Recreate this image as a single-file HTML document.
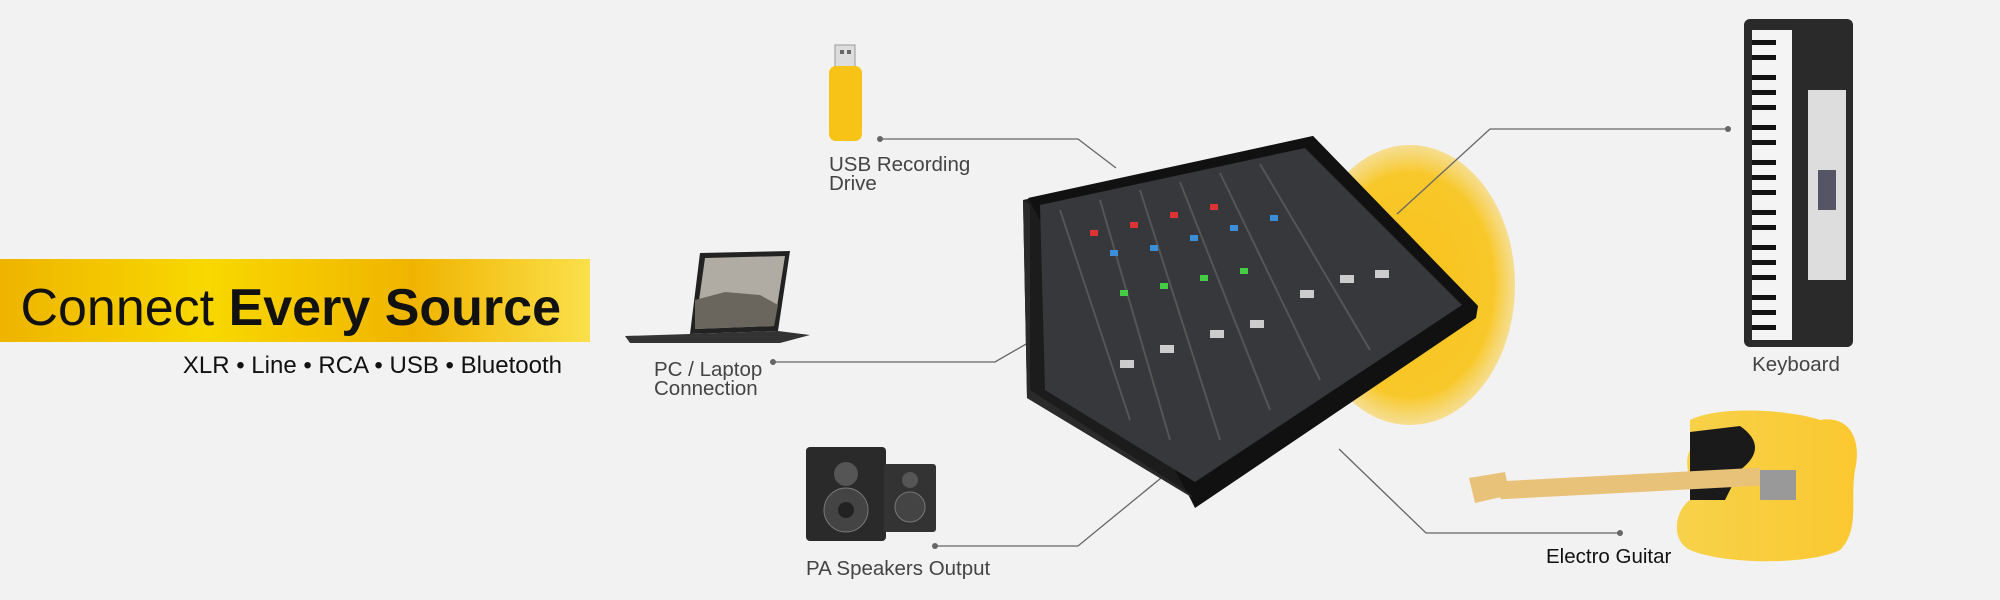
<!DOCTYPE html>
<html><head><meta charset="utf-8"><style>
html,body{margin:0;padding:0;background:#f2f2f2;}
body{width:2000px;height:600px;overflow:hidden;position:relative;font-family:"Liberation Sans",sans-serif;}
</style></head><body>
<svg width="2000" height="600" viewBox="0 0 2000 600" xmlns="http://www.w3.org/2000/svg" style="position:absolute;left:0;top:0">
<defs>
<linearGradient id="ban" x1="0" x2="1" y1="0" y2="0">
<stop offset="0" stop-color="#eeb400"/><stop offset="0.35" stop-color="#f8d800"/><stop offset="0.7" stop-color="#f0b400"/><stop offset="1" stop-color="#fbe04a"/>
</linearGradient>
<radialGradient id="blob" cx="0.5" cy="0.5" r="0.5">
<stop offset="0" stop-color="#f7c21a"/><stop offset="0.8" stop-color="#f8c82a"/><stop offset="1" stop-color="#f8d050" stop-opacity="0.6"/>
</radialGradient>
<linearGradient id="gt" x1="0" x2="1"><stop offset="0" stop-color="#f7d24a"/><stop offset="1" stop-color="#fbc830"/></linearGradient>
</defs>
<rect x="0" y="259" width="590" height="83" fill="url(#ban)"/>
<text x="561" y="325" text-anchor="end" font-size="52" fill="#111"><tspan>Connect </tspan><tspan font-weight="bold">Every Source</tspan></text>
<text x="562" y="373" text-anchor="end" font-size="24" fill="#111">XLR • Line • RCA • USB • Bluetooth</text>

<ellipse cx="1410" cy="285" rx="105" ry="140" fill="url(#blob)"/>

<g stroke="#666" stroke-width="1.3" fill="none">
<polyline points="880,139 1078,139 1116,168"/>
<polyline points="773,362 995,362 1052,329"/>
<polyline points="935,546 1078,546 1161,478"/>
<polyline points="1728,129 1490,129 1397,214"/>
<polyline points="1620,533 1426,533 1339,449"/>
</g>
<g fill="#666"><circle cx="880" cy="139" r="3"/><circle cx="773" cy="362" r="3"/><circle cx="935" cy="546" r="3"/><circle cx="1728" cy="129" r="3"/><circle cx="1620" cy="533" r="3"/></g>

<rect x="835" y="45" width="20" height="22" fill="#ddd" stroke="#999"/>
<rect x="840" y="50" width="4" height="4" fill="#666"/><rect x="847" y="50" width="4" height="4" fill="#666"/>
<rect x="829" y="66" width="33" height="75" rx="7" fill="#f6c316"/>

<polygon points="700,253 790,251 778,331 690,334" fill="#222"/>
<polygon points="705,258 785,256 774,326 695,329" fill="#b0aca4"/>
<polygon points="695,300 725,292 760,295 778,305 774,326 695,329" fill="#6a665e"/>
<polygon points="625,336 690,334 778,331 810,335 780,343 630,343" fill="#333"/>

<rect x="806" y="447" width="80" height="94" rx="4" fill="#2a2a2a"/>
<circle cx="846" cy="474" r="12" fill="#555"/><circle cx="846" cy="510" r="22" fill="#444" stroke="#777"/><circle cx="846" cy="510" r="8" fill="#222"/>
<rect x="884" y="464" width="52" height="68" rx="3" fill="#333"/>
<circle cx="910" cy="480" r="8" fill="#555"/><circle cx="910" cy="507" r="15" fill="#444" stroke="#777"/>

<polygon points="1023,200 1313,136 1478,306 1193,498 1027,398" fill="#1c1c1c"/>
<polygon points="1028,198 1313,136 1478,306 1476,318 1195,508 1190,498" fill="#111"/>
<polygon points="1023,200 1027,398 1193,498 1190,494 1030,390 1030,205" fill="#2a2a2a"/>
<polygon points="1040,205 1305,148 1462,305 1195,482 1045,390" fill="#36383c"/>
<g stroke="#555" stroke-width="2">
<line x1="1060" y1="210" x2="1130" y2="420"/><line x1="1100" y1="200" x2="1170" y2="440"/>
<line x1="1140" y1="190" x2="1220" y2="440"/><line x1="1180" y1="182" x2="1270" y2="410"/>
<line x1="1220" y1="173" x2="1320" y2="380"/><line x1="1260" y1="164" x2="1370" y2="350"/>
</g>
<g fill="#3a8fd8"><rect x="1110" y="250" width="8" height="6"/><rect x="1150" y="245" width="8" height="6"/><rect x="1190" y="235" width="8" height="6"/><rect x="1230" y="225" width="8" height="6"/><rect x="1270" y="215" width="8" height="6"/></g>
<g fill="#d33"><rect x="1090" y="230" width="8" height="6"/><rect x="1130" y="222" width="8" height="6"/><rect x="1170" y="212" width="8" height="6"/><rect x="1210" y="204" width="8" height="6"/></g>
<g fill="#4c4"><rect x="1120" y="290" width="8" height="6"/><rect x="1160" y="283" width="8" height="6"/><rect x="1200" y="275" width="8" height="6"/><rect x="1240" y="268" width="8" height="6"/></g>
<g fill="#ccc"><rect x="1120" y="360" width="14" height="8"/><rect x="1160" y="345" width="14" height="8"/><rect x="1210" y="330" width="14" height="8"/><rect x="1250" y="320" width="14" height="8"/><rect x="1300" y="290" width="14" height="8"/><rect x="1340" y="275" width="14" height="8"/><rect x="1375" y="270" width="14" height="8"/></g>

<rect x="1744" y="19" width="109" height="328" rx="6" fill="#2a2a2a"/>
<rect x="1752" y="30" width="40" height="310" fill="#f4f4f4"/>
<g fill="#111">
<rect x="1752" y="40" width="24" height="5"/><rect x="1752" y="55" width="24" height="5"/><rect x="1752" y="75" width="24" height="5"/><rect x="1752" y="90" width="24" height="5"/><rect x="1752" y="105" width="24" height="5"/><rect x="1752" y="125" width="24" height="5"/><rect x="1752" y="140" width="24" height="5"/><rect x="1752" y="160" width="24" height="5"/><rect x="1752" y="175" width="24" height="5"/><rect x="1752" y="190" width="24" height="5"/><rect x="1752" y="210" width="24" height="5"/><rect x="1752" y="225" width="24" height="5"/><rect x="1752" y="245" width="24" height="5"/><rect x="1752" y="260" width="24" height="5"/><rect x="1752" y="275" width="24" height="5"/><rect x="1752" y="295" width="24" height="5"/><rect x="1752" y="310" width="24" height="5"/><rect x="1752" y="325" width="24" height="5"/>
</g>
<rect x="1808" y="90" width="38" height="190" fill="#ddd"/>
<rect x="1818" y="170" width="18" height="40" fill="#556"/>

<path d="M1690,420 C1720,405 1790,410 1820,420 C1850,415 1862,440 1855,470 C1850,500 1860,530 1840,550 C1810,565 1725,565 1690,550 C1670,540 1675,510 1690,500 C1700,490 1680,470 1690,450 Z" fill="url(#gt)"/>
<path d="M1690,432 L1740,426 C1760,440 1760,455 1740,470 L1725,500 L1690,500 Z" fill="#1a1a1a"/>
<rect x="1500" y="475" width="260" height="18" fill="#e9c27a" transform="rotate(-3 1620 484)"/>
<path d="M1469,478 L1505,472 L1510,495 L1475,503 Z" fill="#e9c27a"/>
<rect x="1760" y="470" width="36" height="30" fill="#999"/>

<g font-size="20.5" fill="#444">
<text x="829" y="171">USB Recording</text><text x="829" y="190">Drive</text>
<text x="654" y="376">PC / Laptop</text><text x="654" y="395">Connection</text>
<text x="806" y="575">PA Speakers Output</text>
<text x="1796" y="371" text-anchor="middle">Keyboard</text>
</g>
<text x="1546" y="563" font-size="20.5" fill="#111">Electro Guitar</text>
</svg>
</body></html>
